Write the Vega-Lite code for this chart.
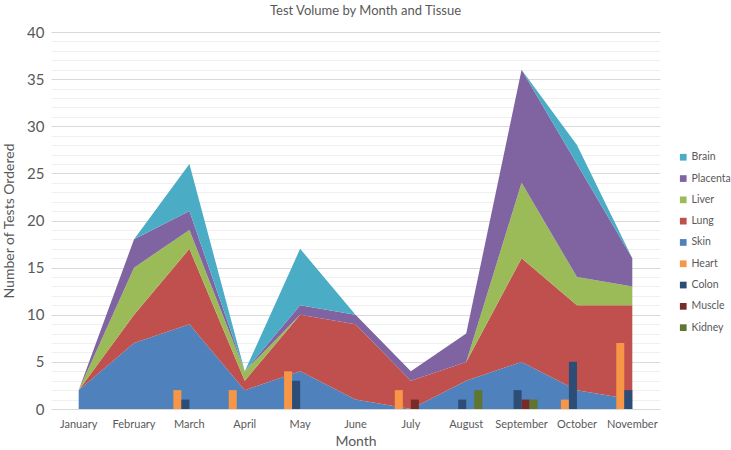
{
  "$schema": "https://vega.github.io/schema/vega-lite/v6.json",
  "width": 609,
  "height": 377,
  "autosize": {"type": "none"},
  "padding": {"left": 51, "top": 32, "right": 71, "bottom": 41},
  "background": "white",
  "title": {"text": "Test Volume by Month and Tissue", "anchor": "middle", "fontSize": 13, "fontWeight": "normal", "color": "#595959", "font": "Lato", "dx": 10, "offset": 7},
  "config": {"view": {"stroke": null}, "font": "Lato"},
  "datasets": {
    "areas": [
      {"month": "January", "tissue": "Skin", "n": 2}, {"month": "January", "tissue": "Lung", "n": 0}, {"month": "January", "tissue": "Liver", "n": 0}, {"month": "January", "tissue": "Placenta", "n": 0}, {"month": "January", "tissue": "Brain", "n": 0},
      {"month": "February", "tissue": "Skin", "n": 7}, {"month": "February", "tissue": "Lung", "n": 3}, {"month": "February", "tissue": "Liver", "n": 5}, {"month": "February", "tissue": "Placenta", "n": 3}, {"month": "February", "tissue": "Brain", "n": 0},
      {"month": "March", "tissue": "Skin", "n": 9}, {"month": "March", "tissue": "Lung", "n": 8}, {"month": "March", "tissue": "Liver", "n": 2}, {"month": "March", "tissue": "Placenta", "n": 2}, {"month": "March", "tissue": "Brain", "n": 5},
      {"month": "April", "tissue": "Skin", "n": 2}, {"month": "April", "tissue": "Lung", "n": 1}, {"month": "April", "tissue": "Liver", "n": 1}, {"month": "April", "tissue": "Placenta", "n": 0}, {"month": "April", "tissue": "Brain", "n": 0},
      {"month": "May", "tissue": "Skin", "n": 4}, {"month": "May", "tissue": "Lung", "n": 6}, {"month": "May", "tissue": "Liver", "n": 0}, {"month": "May", "tissue": "Placenta", "n": 1}, {"month": "May", "tissue": "Brain", "n": 6},
      {"month": "June", "tissue": "Skin", "n": 1}, {"month": "June", "tissue": "Lung", "n": 8}, {"month": "June", "tissue": "Liver", "n": 0}, {"month": "June", "tissue": "Placenta", "n": 1}, {"month": "June", "tissue": "Brain", "n": 0},
      {"month": "July", "tissue": "Skin", "n": 0}, {"month": "July", "tissue": "Lung", "n": 3}, {"month": "July", "tissue": "Liver", "n": 0}, {"month": "July", "tissue": "Placenta", "n": 1}, {"month": "July", "tissue": "Brain", "n": 0},
      {"month": "August", "tissue": "Skin", "n": 3}, {"month": "August", "tissue": "Lung", "n": 2}, {"month": "August", "tissue": "Liver", "n": 0}, {"month": "August", "tissue": "Placenta", "n": 3}, {"month": "August", "tissue": "Brain", "n": 0},
      {"month": "September", "tissue": "Skin", "n": 5}, {"month": "September", "tissue": "Lung", "n": 11}, {"month": "September", "tissue": "Liver", "n": 8}, {"month": "September", "tissue": "Placenta", "n": 12}, {"month": "September", "tissue": "Brain", "n": 0},
      {"month": "October", "tissue": "Skin", "n": 2}, {"month": "October", "tissue": "Lung", "n": 9}, {"month": "October", "tissue": "Liver", "n": 3}, {"month": "October", "tissue": "Placenta", "n": 12}, {"month": "October", "tissue": "Brain", "n": 2},
      {"month": "November", "tissue": "Skin", "n": 1}, {"month": "November", "tissue": "Lung", "n": 10}, {"month": "November", "tissue": "Liver", "n": 2}, {"month": "November", "tissue": "Placenta", "n": 3}, {"month": "November", "tissue": "Brain", "n": 0}
    ],
    "bars": [
      {"month": "March", "tissue": "Heart", "n": 2}, {"month": "March", "tissue": "Colon", "n": 1},
      {"month": "April", "tissue": "Heart", "n": 2},
      {"month": "May", "tissue": "Heart", "n": 4}, {"month": "May", "tissue": "Colon", "n": 3},
      {"month": "July", "tissue": "Heart", "n": 2}, {"month": "July", "tissue": "Muscle", "n": 1},
      {"month": "August", "tissue": "Colon", "n": 1}, {"month": "August", "tissue": "Kidney", "n": 2},
      {"month": "September", "tissue": "Colon", "n": 2}, {"month": "September", "tissue": "Muscle", "n": 1}, {"month": "September", "tissue": "Kidney", "n": 1},
      {"month": "October", "tissue": "Heart", "n": 1}, {"month": "October", "tissue": "Colon", "n": 5},
      {"month": "November", "tissue": "Heart", "n": 7}, {"month": "November", "tissue": "Colon", "n": 2}
    ]
  },
  "layer": [
    {
      "data": {"name": "areas"},
      "transform": [{"calculate": "indexof(['Skin','Lung','Liver','Placenta','Brain'], datum.tissue)", "as": "stackOrder"}],
      "mark": {"type": "area", "opacity": 1},
      "encoding": {
        "x": {
          "field": "month", "type": "ordinal",
          "sort": ["January", "February", "March", "April", "May", "June", "July", "August", "September", "October", "November"],
          "bandPosition": 0.5,
          "scale": {"type": "band", "paddingInner": 0.42, "paddingOuter": 0.21},
          "axis": {"title": "Month", "titleFontSize": 14, "titleFontWeight": "normal", "titleColor": "#595959", "titlePadding": 5, "labelFontSize": 11, "labelColor": "#595959", "labelAngle": 0, "labelPadding": 9, "ticks": false, "domainColor": "#d9d9d9", "grid": false}
        },
        "y": {
          "field": "n", "type": "quantitative", "stack": "zero",
          "scale": {"domain": [0, 40], "nice": false},
          "axis": {
            "title": "Number of Tests Ordered", "titleFontSize": 14, "titleFontWeight": "normal", "titleColor": "#595959", "titlePadding": 10,
            "values": [0,1,2,3,4,5,6,7,8,9,10,11,12,13,14,15,16,17,18,19,20,21,22,23,24,25,26,27,28,29,30,31,32,33,34,35,36,37,38,39,40],
            "tickCount": 41,
            "labelExpr": "datum.value % 5 === 0 ? datum.label : ''",
            "labelOverlap": false,
            "labelFontSize": 15, "labelColor": "#595959", "labelPadding": 7,
            "ticks": false, "domain": false, "grid": true,
            "gridColor": {"condition": {"test": "datum.value % 5 === 0", "value": "#d9d9d9"}, "value": "#f0f0f0"}
          }
        },
        "color": {
          "field": "tissue", "type": "nominal",
          "scale": {
            "domain": ["Brain", "Placenta", "Liver", "Lung", "Skin", "Heart", "Colon", "Muscle", "Kidney"],
            "range": ["#4BACC6", "#8064A2", "#9BBB59", "#C0504D", "#4F81BD", "#F79646", "#2C4D75", "#772C2A", "#5F7530"]
          },
          "legend": {"orient": "none", "legendX": 627, "legendY": 120, "title": null, "symbolType": "square", "symbolSize": 45, "symbolStrokeWidth": 0, "symbolOpacity": 1, "labelFontSize": 10.5, "labelColor": "#595959", "rowPadding": 10.3, "labelOffset": 3}
        },
        "order": {"field": "stackOrder", "type": "quantitative", "sort": "ascending"}
      }
    },
    {
      "data": {"name": "bars"},
      "mark": {"type": "bar"},
      "encoding": {
        "x": {"field": "month", "type": "ordinal", "sort": ["January", "February", "March", "April", "May", "June", "July", "August", "September", "October", "November"]},
        "xOffset": {"field": "tissue", "type": "nominal", "sort": ["Heart", "Colon", "Muscle", "Kidney"], "scale": {"domain": ["Heart", "Colon", "Muscle", "Kidney"], "paddingInner": 0, "paddingOuter": 0}},
        "y": {"field": "n", "type": "quantitative", "stack": null},
        "color": {"field": "tissue", "type": "nominal"}
      }
    }
  ]
}
